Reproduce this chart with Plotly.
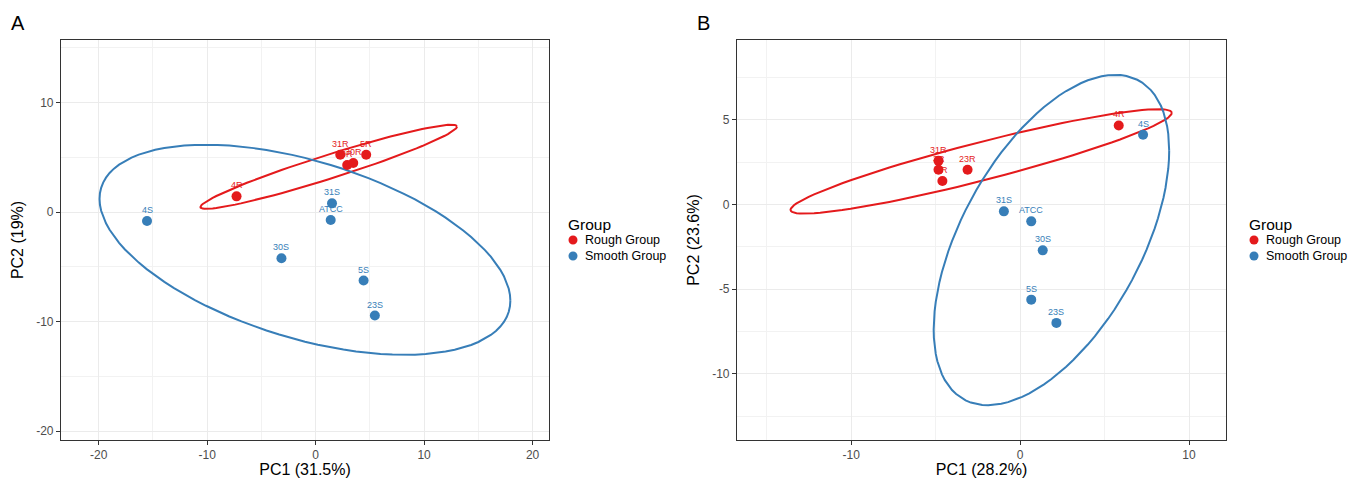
import numpy as np
import plotly.graph_objects as go

# ---------------- data ----------------
groups = ["Rough Group", "Smooth Group"]
colors = {"Rough Group": "#E41A1C", "Smooth Group": "#377EB8"}

# Panel A
a_rough_names = ["4R", "31R", "5R", "30R", "3R"]
a_rough_pc1 = [-7.29, 2.27, 4.66, 3.47, 2.91]
a_rough_pc2 = [1.43, 5.23, 5.23, 4.47, 4.29]
a_smooth_names = ["4S", "31S", "ATCC", "30S", "5S", "23S"]
a_smooth_pc1 = [-15.54, 1.51, 1.39, -3.15, 4.42, 5.46]
a_smooth_pc2 = [-0.82, 0.79, -0.73, -4.22, -6.26, -9.45]

# Panel B
b_rough_names = ["4R", "31R", "3R", "5R", "23R"]
b_rough_pc1 = [5.84, -4.83, -4.83, -4.60, -3.11]
b_rough_pc2 = [4.66, 2.57, 2.04, 1.38, 2.04]
b_smooth_names = ["4S", "31S", "ATCC", "30S", "5S", "23S"]
b_smooth_pc1 = [7.28, -0.96, 0.66, 1.34, 0.66, 2.15]
b_smooth_pc2 = [4.11, -0.41, -1.00, -2.71, -5.62, -6.99]

a_xticks = [-20, -10, 0, 10, 20]
a_yticks = [-20, -10, 0, 10]
b_xticks = [-10, 0, 10]
b_yticks = [-10, -5, 0, 5]

a_xtitle, a_ytitle = "PC1 (31.5%)", "PC2 (19%)"
b_xtitle, b_ytitle = "PC1 (28.2%)", "PC2 (23.6%)"
legend_title = "Group"


# ---------------- 95% normal confidence ellipse (chi-square, 2 df) ----------------
def ellipse(px, py, level=0.95, segments=100):
    pts = np.column_stack([px, py])
    cov = np.cov(pts.T)
    center = pts.mean(0)
    radius = np.sqrt(-2.0 * np.log(1 - level))   # sqrt(qchisq(level, 2))
    R = np.linalg.cholesky(cov).T
    ang = np.arange(segments + 1) * 2 * np.pi / segments
    circ = np.column_stack([np.cos(ang), np.sin(ang)])
    e = center + radius * (circ @ R)
    return e[:, 0], e[:, 1]


FONT = "Liberation Sans, Arial, sans-serif"
W, H = 1350, 478
fig = go.Figure()
annotations = []
shapes = []

panels = [
    ("x", "y", [
        ("Rough Group", a_rough_names, a_rough_pc1, a_rough_pc2),
        ("Smooth Group", a_smooth_names, a_smooth_pc1, a_smooth_pc2)]),
    ("x2", "y2", [
        ("Rough Group", b_rough_names, b_rough_pc1, b_rough_pc2),
        ("Smooth Group", b_smooth_names, b_smooth_pc1, b_smooth_pc2)]),
]

for xa, ya, series in panels:
    for g, names, px, py in series:
        ex, ey = ellipse(px, py)
        fig.add_trace(go.Scatter(x=ex, y=ey, mode="lines", xaxis=xa, yaxis=ya,
                                 line=dict(color=colors[g], width=2),
                                 showlegend=False, hoverinfo="skip"))
    for g, names, px, py in series:
        fig.add_trace(go.Scatter(x=px, y=py, mode="markers", name=g, xaxis=xa, yaxis=ya,
                                 marker=dict(color=colors[g], size=10),
                                 text=names, showlegend=False))
        for n_, x_, y_ in zip(names, px, py):
            annotations.append(dict(text=n_, x=x_, y=y_, xref=xa, yref=ya,
                                    yshift=11, xanchor="center", yanchor="middle",
                                    showarrow=False,
                                    font=dict(size=9, color=colors[g], family=FONT)))

# ggplot-style legends (title + keys) right of each panel
for lx in (566, 1247):
    annotations.append(dict(text=legend_title, x=lx / W, y=1 - 224 / H, xref="paper", yref="paper",
                            xanchor="left", yanchor="middle", showarrow=False,
                            font=dict(size=15.5, color="black", family=FONT)))
    for i, g in enumerate(groups):
        yy = 1 - (240 + 16 * i) / H
        shapes.append(dict(type="circle", xref="paper", yref="paper",
                           xsizemode="pixel", ysizemode="pixel",
                           xanchor=(lx + 7) / W, yanchor=yy,
                           x0=-4.5, x1=4.5, y0=-4.5, y1=4.5,
                           fillcolor=colors[g], line=dict(width=0)))
        annotations.append(dict(text=g, x=(lx + 17) / W, y=yy, xref="paper", yref="paper",
                                xanchor="left", yanchor="middle", showarrow=False,
                                font=dict(size=12.5, color="black", family=FONT)))

annotations += [
    dict(text="A", x=17.5 / W, y=1 - 23 / H, xref="paper", yref="paper",
         xanchor="center", yanchor="middle", showarrow=False,
         font=dict(size=20, color="black", family=FONT)),
    dict(text="B", x=703.5 / W, y=1 - 23 / H, xref="paper", yref="paper",
         xanchor="center", yanchor="middle", showarrow=False,
         font=dict(size=20, color="black", family=FONT)),
]


def axis_style(domain, rng, ticks, minor, title, anchor, standoff):
    return dict(domain=domain, range=rng, anchor=anchor,
                tickvals=ticks, ticktext=[str(t) for t in ticks],
                showline=True, mirror=True, linecolor="#333333", linewidth=1.1,
                ticks="outside", ticklen=4, tickcolor="#333333", tickwidth=1,
                showgrid=True, gridcolor="#EBEBEB", gridwidth=1, zeroline=False,
                minor=dict(showgrid=True, gridcolor="#F2F2F2", gridwidth=0.6,
                           tick0=0, dtick=minor, ticks=""),
                tickfont=dict(size=12, color="#4D4D4D", family=FONT),
                title=dict(text=title, font=dict(size=16, color="black", family=FONT),
                           standoff=standoff))


yd = [1 - 440 / H, 1 - 40 / H]
fig.update_layout(
    width=W, height=H,
    margin=dict(l=0, r=0, t=0, b=0),
    paper_bgcolor="white", plot_bgcolor="white",
    font=dict(family=FONT),
    showlegend=False,
    xaxis=axis_style([61 / W, 549 / W], [-23.47, 21.51], a_xticks, 5, a_xtitle, "y", 5),
    yaxis=axis_style(yd, [-20.82, 15.71], a_yticks, 5, a_ytitle, "x", 8),
    xaxis2=axis_style([737 / W, 1226 / W], [-16.76, 12.19], b_xticks, 5, b_xtitle, "y2", 5),
    yaxis2=axis_style(yd, [-13.9, 9.7], b_yticks, 2.5, b_ytitle, "x2", 8),
    annotations=annotations,
    shapes=shapes,
)

fig.write_html("out.html", config={"displayModeBar": False},
               post_script="document.body.style.margin='0px';")
